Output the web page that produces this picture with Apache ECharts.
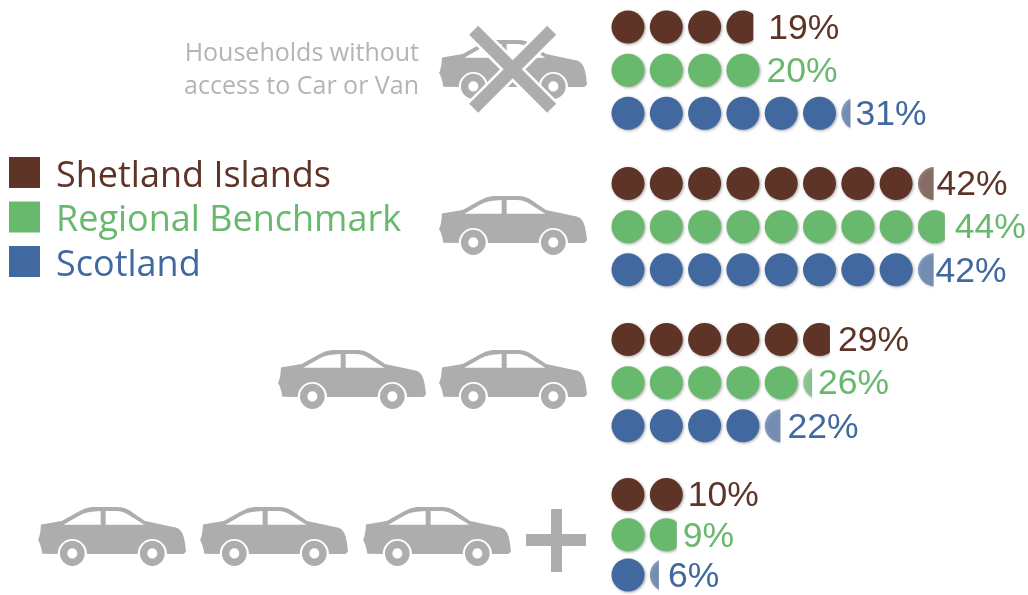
<!DOCTYPE html>
<html><head><meta charset="utf-8">
<style>html,body{margin:0;padding:0;background:#fff}#c{width:1028px;height:595px}</style>
<script src="https://cdn.jsdelivr.net/npm/echarts@6/dist/echarts.min.js"></script>
</head><body><div id="c"></div>
<script>
const regions = ['Shetland Islands', 'Regional Benchmark', 'Scotland'];
const shetland = [19, 42, 29, 10];
const benchmark = [20, 44, 26, 9];
const scotland = [31, 42, 22, 6];
const captionLines = ['Households without', 'access to Car or Van'];

const regionValues = [shetland, benchmark, scotland];
const colors = ['#5e3427', '#68b96e', '#41689f'];
const labelGaps = [[15, 3, 8, 5], [7, 10, 6, 6], [5, 2, 7, 9]];
const groupTops = [5.5, 162, 318, 474.5];
const D = 33, GRAY = '#adadad';

const carPath = 'M38 580 L100 570 L150 543 Q170 531 190 529 L265 529 Q290 530 305 540 L350 570 L445 590 Q465 597 470 635 L473 658 Q470 667 460 667 L416 667 ' +
  'A44 44 0 0 0 328 667 L176 667 A44 44 0 0 0 88 667 L42 666 Q38 640 29 625 Q36 615 38 580 Z ' +
  'M105 581 L217 581 L217 541 Q175 543 155 553 Z M232 581 L348 581 L300 552 Q285 542 262 541 L232 541 Z ' +
  'M95 665 A37 37 0 1 1 169 665 A37 37 0 1 1 95 665 Z M117 665 A15 15 0 1 0 147 665 A15 15 0 1 0 117 665 Z ' +
  'M335 665 A37 37 0 1 1 409 665 A37 37 0 1 1 335 665 Z M357 665 A15 15 0 1 0 387 665 A15 15 0 1 0 357 665 Z';
const car = (x, y) => ({type: 'path', shape: {pathData: carPath, x, y, width: 148, height: 59, layout: 'cover'}, style: {fill: GRAY}});
const bar = (x1, y1, x2, y2, w, c) => ({type: 'line', shape: {x1, y1, x2, y2}, style: {stroke: c, lineWidth: w, lineCap: 'butt'}});

function renderRow(regionIdx, groupIdx) {
  return function (params, api) {
    const v = api.value(0), row = api.value(1);
    const origin = api.coord([0, row]);
    const pitch = api.coord([5, row])[0] - origin[0];
    const n = Math.floor(v / 5), frac = v / 5 - n;
    const color = colors[regionIdx], cy = origin[1], x0 = origin[0];
    const shadow = {shadowBlur: 3, shadowColor: 'rgba(0,0,0,0.35)', shadowOffsetX: 1, shadowOffsetY: 1};
    const children = [];
    for (let i = 0; i < n; i++) {
      children.push({type: 'circle', shape: {cx: x0 + i * pitch + D / 2, cy, r: D / 2}, style: Object.assign({fill: color}, shadow)});
    }
    let end = x0 + (n - 1) * pitch + D;
    if (frac > 0.001) {
      const left = x0 + n * pitch, w = frac * D + (frac < 0.5 ? 2.5 : 0.5);
      children.push({type: 'circle', shape: {cx: left + D / 2, cy, r: D / 2},
        style: Object.assign({fill: color, opacity: frac < 0.5 ? 0.62 : 1}, shadow),
        clipPath: {type: 'rect', shape: {x: left - 2, y: cy - D, width: w + 2, height: 2 * D}}});
      end = left + w;
    }
    children.push({type: 'text', x: end + labelGaps[regionIdx][groupIdx], y: cy + 2,
      style: {text: v + '%', fill: color, fontSize: 35.5, fontFamily: 'Liberation Sans', verticalAlign: 'middle', align: 'left'}});
    return {type: 'group', children};
  };
}

const grids = [], xAxes = [], yAxes = [], series = [];
groupTops.forEach((top, g) => {
  grids.push({left: 611.5, top, width: 383, height: 129.3});
  xAxes.push({type: 'value', gridIndex: g, min: 0, max: 50, show: false});
  yAxes.push({type: 'category', gridIndex: g, data: regions, inverse: true, show: false});
  regions.forEach((name, r) => {
    series.push({type: 'custom', name, xAxisIndex: g, yAxisIndex: g, clip: false, silent: true,
      itemStyle: {color: colors[r]}, encode: {x: 0, y: 1},
      data: [[regionValues[r][g], name]], renderItem: renderRow(r, g)});
  });
});

series.push({type: 'custom', name: 'icons', coordinateSystem: 'none', silent: true, data: [0], renderItem: () => ({type: 'group', children: [
  car(439, 40), bar(473.7, 30.3, 551.7, 108.3, 18, '#fff'), bar(551.7, 30.3, 473.7, 108.3, 18, '#fff'),
  bar(473.7, 30.3, 551.7, 108.3, 12.7, GRAY), bar(551.7, 30.3, 473.7, 108.3, 12.7, GRAY),
  car(439, 196), car(278, 350), car(439, 350), car(38, 507), car(200, 507), car(363, 507),
  {type: 'rect', shape: {x: 551, y: 509, width: 11, height: 63}, style: {fill: GRAY}},
  {type: 'rect', shape: {x: 526, y: 534, width: 60, height: 12}, style: {fill: GRAY}}
]})});

const option = {
  animation: false, backgroundColor: '#fff',
  grid: grids, xAxis: xAxes, yAxis: yAxes, series,
  legend: {orient: 'vertical', left: 9, top: 150.5, itemWidth: 31, itemHeight: 31, itemGap: 0.5, icon: 'rect', selectedMode: false, padding: 0,
    formatter: name => '{a|' + name + '}',
    textStyle: {fontFamily: 'Open Sans', fontSize: 36, lineHeight: 31,
      rich: {a: {fontFamily: 'Open Sans', fontSize: 36, lineHeight: 31, padding: [8, 0, 0, 11]}}},
    data: regions.map((name, r) => ({name, textStyle: {color: colors[r]}, itemStyle: {color: colors[r]}}))},
  graphic: [
    {type: 'text', x: 419, y: 54, style: {text: captionLines[0], fill: '#b4b4b4', fontSize: 25, fontFamily: 'Open Sans', align: 'right', verticalAlign: 'middle'}},
    {type: 'text', x: 419, y: 87, style: {text: captionLines[1], fill: '#b4b4b4', fontSize: 25, fontFamily: 'Open Sans', align: 'right', verticalAlign: 'middle'}}
  ]
};
const chart = echarts.init(document.getElementById('c'), null, {renderer: 'canvas'});
chart.setOption(option);
</script></body></html>
